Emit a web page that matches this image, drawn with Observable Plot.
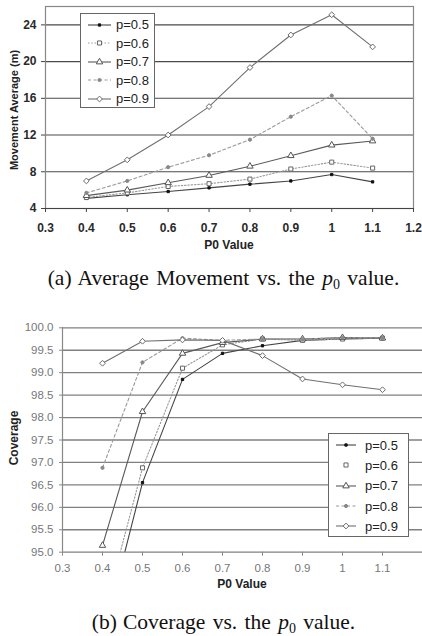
<!DOCTYPE html>
<html><head><meta charset="utf-8">
<script src="https://cdn.jsdelivr.net/npm/d3@7"></script>
<script src="https://cdn.jsdelivr.net/npm/@observablehq/plot@0.6"></script>
<style>
html,body{margin:0;padding:0;background:#fff}
body{width:422px;height:636px;position:relative;overflow:hidden;font-family:"Liberation Sans",Arial,sans-serif}
.chart{position:absolute;left:0}
.cap{position:absolute;left:0;width:447px;text-align:center;font-family:"Liberation Serif","Times New Roman",serif;font-size:21.5px;color:#111;word-spacing:2px;line-height:24px;white-space:nowrap}
.cap .lbl{margin-right:6px}
.legend{position:absolute;background:#fff;border:1px solid #666;box-sizing:border-box;color:#222}
.legend .row{display:flex;align-items:center}
.legend svg{display:block}
.ytitle{position:absolute;font-weight:bold;color:#222;white-space:nowrap;transform:translate(-50%,-50%) rotate(-90deg)}
.xtitle{position:absolute;font-weight:bold;color:#222;white-space:nowrap;transform:translate(-50%,-50%)}
</style>
</head><body>
<div id="chartA" class="chart" style="top:0"></div>
<div id="chartB" class="chart" style="top:300px"></div>
<script>
// ---- data ----
const p0 = [0.4, 0.5, 0.6, 0.7, 0.8, 0.9, 1.0, 1.1];
const seriesNames = ["p=0.5", "p=0.6", "p=0.7", "p=0.8", "p=0.9"];

// (a) Average movement (m)
const move05 = [5.1, 5.5, 5.85, 6.25, 6.65, 7.0, 7.7, 6.9];
const move06 = [5.2, 5.7, 6.4, 6.7, 7.2, 8.3, 9.05, 8.4];
const move07 = [5.4, 6.0, 6.8, 7.6, 8.6, 9.75, 10.9, 11.35];
const move08 = [5.7, 7.0, 8.5, 9.8, 11.5, 14.0, 16.3, 11.6];
const move09 = [7.0, 9.3, 12.0, 15.1, 19.35, 22.9, 25.1, 21.6];

// (b) Coverage (%)
const cov05 = [93.05, 96.55, 98.85, 99.43, 99.6, 99.72, 99.75, 99.77];
const cov06 = [93.5, 96.88, 99.1, 99.62, 99.75, 99.72, 99.75, 99.77];
const cov07 = [95.15, 98.13, 99.43, 99.67, 99.75, 99.75, 99.78, 99.77];
const cov08 = [96.88, 99.23, 99.77, 99.72, 99.75, 99.75, 99.78, 99.77];
const cov09 = [99.21, 99.7, 99.73, 99.72, 99.38, 98.86, 98.73, 98.62];

// ticks
const xTicksA = [0.3, 0.4, 0.5, 0.6, 0.7, 0.8, 0.9, 1, 1.1, 1.2];
const xTicksB = [0.3, 0.4, 0.5, 0.6, 0.7, 0.8, 0.9, 1, 1.1];
const yTicksA = [4, 8, 12, 16, 20, 24];
const yTicksB = [95, 95.5, 96, 96.5, 97, 97.5, 98, 98.5, 99, 99.5, 100];

const titleXA = "P0 Value", titleYA = "Movement Average (m)";
const titleXB = "P0 Value", titleYB = "Coverage";
// ---- end data ----

function toRows(arrs) {
  const rows = [];
  arrs.forEach((vals, i) => vals.forEach((v, j) => rows.push({p: seriesNames[i], x: p0[j], y: v})));
  return rows;
}
const rowsA = toRows([move05, move06, move07, move08, move09]);
const rowsB = toRows([cov05, cov06, cov07, cov08, cov09]);

const styles = {
  "p=0.5": {stroke: "#444", dash: null, symbol: "square", sym: d3.symbolSquare, r: 1.3, fill: "#111", ms: "#111", sw: 1.1},
  "p=0.6": {stroke: "#999", dash: "1.5,1.8", symbol: "square", sym: d3.symbolSquare, r: 2.3, fill: "white", ms: "#666", sw: 1.1},
  "p=0.7": {stroke: "#5a5a5a", dash: null, symbol: "triangle", sym: d3.symbolTriangle, r: 2.4, fill: "white", ms: "#555", sw: 1.1},
  "p=0.8": {stroke: "#999", dash: "3,2.5", symbol: "circle", sym: d3.symbolCircle, r: 1.6, fill: "#888", ms: "#888", sw: 1.1},
  "p=0.9": {stroke: "#707070", dash: null, symbol: "diamond2", sym: d3.symbolDiamond2, r: 2.6, fill: "white", ms: "#6a6a6a", sw: 1.1}
};

function seriesMarks(rows, clip) {
  const marks = [];
  for (const name of seriesNames) {
    const s = styles[name];
    const data = rows.filter(d => d.p === name);
    marks.push(Plot.line(data, {x: "x", y: "y", stroke: s.stroke, strokeWidth: s.sw, strokeDasharray: s.dash, clip}));
  }
  for (const name of seriesNames) {
    const s = styles[name];
    const data = rows.filter(d => d.p === name);
    marks.push(Plot.dot(data, {x: "x", y: "y", symbol: () => s.symbol, r: s.r, fill: s.fill, stroke: s.ms, strokeWidth: 1, clip}));
  }
  return marks;
}

// Chart (a)
const chartA = Plot.plot({
  width: 422, height: 255,
  marginLeft: 45, marginRight: 9, marginTop: 6, marginBottom: 47,
  style: {fontFamily: "'Liberation Sans', Arial, sans-serif", background: "white", overflow: "visible"},
  x: {domain: [0.3, 1.2], ticks: xTicksA},
  y: {domain: [4, 26], ticks: yTicksA},
  marks: [
    Plot.gridY(yTicksA, {stroke: "#4a4a4a", strokeOpacity: 1, strokeWidth: 1.1}),
    Plot.frame({stroke: "#888", strokeWidth: 1.2}),
    Plot.axisY(yTicksA, {tickSize: 4, tickPadding: 5, label: null, fontSize: 12, fontWeight: "bold", fill: "#2a2a2a", stroke: "#444"}),
    Plot.axisX(xTicksA, {tickSize: 4, tickPadding: 11, label: null, fontSize: 12, fontWeight: "bold", fill: "#2a2a2a", stroke: "#444", tickFormat: d => String(d)}),
    Plot.ruleY([4], {stroke: "#444", strokeWidth: 1.2}),
    ...seriesMarks(rowsA, false)
  ]
});
document.getElementById("chartA").append(chartA);

// Chart (b)
const chartB = Plot.plot({
  width: 422, height: 296,
  marginLeft: 62, marginRight: 0, marginTop: 27.3, marginBottom: 44.3,
  style: {fontFamily: "'Liberation Sans', Arial, sans-serif", background: "white", overflow: "visible"},
  x: {domain: [0.3, 1.2], ticks: xTicksB},
  y: {domain: [95, 100], ticks: yTicksB},
  marks: [
    Plot.gridY(yTicksB, {stroke: "#808080", strokeOpacity: 1, strokeWidth: 1.3}),
    Plot.axisY(yTicksB, {tickSize: 3, tickPadding: 6, label: null, fontSize: 11.5, fill: "#777", stroke: "#888", tickFormat: d => d.toFixed(1)}),
    Plot.axisX(xTicksB, {tickSize: 4, tickPadding: 8, label: null, fontSize: 11.5, fill: "#777", stroke: "#888", tickFormat: d => String(d)}),
    Plot.ruleX([0.3], {stroke: "#888", strokeWidth: 1.2}),
    ...seriesMarks(rowsB, "frame")
  ]
});
document.getElementById("chartB").append(chartB);

// Axis titles
function addTitle(cls, text, x, y, size) {
  const el = document.createElement("div");
  el.className = cls;
  el.textContent = text;
  el.style.left = x + "px";
  el.style.top = y + "px";
  el.style.fontSize = size + "px";
  document.body.append(el);
}
addTitle("ytitle", titleYA, 14, 110, 11);
addTitle("xtitle", titleXA, 229, 245, 12);
addTitle("ytitle", titleYB, 14, 438, 12);
addTitle("xtitle", titleXB, 242, 584, 12);

// Legends
function legend(left, top, width, height, rowH, padTop, lineW, gap, hideLine) {
  const box = document.createElement("div");
  box.className = "legend";
  Object.assign(box.style, {left: left + "px", top: top + "px", width: width + "px", height: height + "px", paddingTop: padTop + "px", paddingLeft: "7px", fontSize: "13px"});
  for (const name of seriesNames) {
    const s = styles[name];
    const row = document.createElement("div");
    row.className = "row";
    row.style.height = rowH + "px";
    const svg = d3.create("svg").attr("width", lineW).attr("height", 10);
    if (!(hideLine && hideLine.includes(name)))
      svg.append("line").attr("x1", 0).attr("x2", lineW).attr("y1", 5).attr("y2", 5)
        .attr("stroke", s.stroke).attr("stroke-width", s.sw).attr("stroke-dasharray", s.dash);
    svg.append("path").attr("d", d3.symbol(s.sym, Math.PI * s.r * s.r)())
      .attr("transform", `translate(${lineW / 2},5)`).attr("fill", s.fill).attr("stroke", s.ms);
    row.append(svg.node());
    const t = document.createElement("span");
    t.textContent = name;
    t.style.marginLeft = gap + "px";
    row.append(t);
    box.append(row);
  }
  document.body.append(box);
}
legend(80, 13, 75, 95, 18.5, 1.5, 23, 5, null);
legend(328, 433, 81, 104, 20.3, 1, 20, 9, ["p=0.6"]);

// Captions
function caption(lbl, text, top) {
  const el = document.createElement("div");
  el.className = "cap";
  el.style.top = top + "px";
  el.innerHTML = `<span class="lbl">${lbl}</span>${text} <i>p</i><sub style="font-size:14px;vertical-align:-4px">0</sub> value.`;
  document.body.append(el);
}
caption("(a)", "Average Movement vs. the", 266);
caption("(b)", "Coverage vs. the", 610);
</script>
</body></html>
